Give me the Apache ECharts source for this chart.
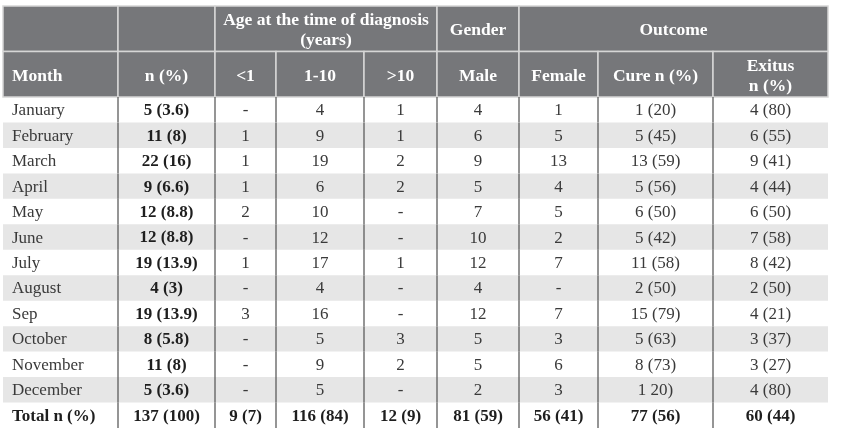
<!DOCTYPE html>
<html>
<head>
<meta charset="utf-8">
<script src="https://cdn.jsdelivr.net/npm/echarts@6/dist/echarts.min.js"></script>
<style>html,body{margin:0;padding:0;background:#fff;}#c{width:850px;height:444px;}</style>
</head>
<body>
<div id="c"></div>
<script>
// ---- data ----
const months = ['January','February','March','April','May','June','July','August','Sep','October','November','December'];
const nPct = ['5 (3.6)','11 (8)','22 (16)','9 (6.6)','12 (8.8)','12 (8.8)','19 (13.9)','4 (3)','19 (13.9)','8 (5.8)','11 (8)','5 (3.6)'];
const ageUnder1 = ['-','1','1','1','2','-','1','-','3','-','-','-'];
const age1to10 = ['4','9','19','6','10','12','17','4','16','5','9','5'];
const ageOver10 = ['1','1','2','2','-','-','1','-','-','3','2','-'];
const male = ['4','6','9','5','7','10','12','4','12','5','5','2'];
const female = ['1','5','13','4','5','2','7','-','7','3','6','3'];
const cure = ['1 (20)','5 (45)','13 (59)','5 (56)','6 (50)','5 (42)','11 (58)','2 (50)','15 (79)','5 (63)','8 (73)','1 20)'];
const exitus = ['4 (80)','6 (55)','9 (41)','4 (44)','6 (50)','7 (58)','8 (42)','2 (50)','4 (21)','3 (37)','3 (27)','4 (80)'];
const totals = ['Total n (%)','137 (100)','9 (7)','116 (84)','12 (9)','81 (59)','56 (41)','77 (56)','60 (44)'];

const headerGroups = [
  {from: 0, to: 1, text: ''},
  {from: 1, to: 2, text: ''},
  {from: 2, to: 5, text: 'Age at the time of diagnosis\n(years)'},
  {from: 5, to: 6, text: 'Gender'},
  {from: 6, to: 9, text: 'Outcome'}
];
const headerCols = ['Month','n (%)','<1','1-10','>10','Male','Female','Cure n (%)','Exitus\nn (%)'];

// ---- layout (column edges in axis units) ----
const colEdges = [0, 115, 212, 273, 361, 434, 516, 595, 710, 825];
const FONT = '"Liberation Serif", "DejaVu Serif", serif';

// build table structures
const columns = [months, nPct, ageUnder1, age1to10, ageOver10, male, female, cure, exitus];
const rowLabels = months.concat(['Total']);
const bodyData = [], bodyText = [];
for (let r = 0; r < rowLabels.length; r++) {
  for (let c = 0; c < columns.length; c++) {
    bodyData.push([c, r]);
    bodyText.push(r < months.length ? columns[c][r] : totals[c]);
  }
}
const headData = [], headInfo = [];
headerGroups.forEach(g => { headData.push([g.from, 0]); headInfo.push({from: g.from, to: g.to, text: g.text}); });
headerCols.forEach((t, i) => { headData.push([i, 1]); headInfo.push({from: i, to: i + 1, text: t}); });

function renderHead(params, api) {
  const info = headInfo[params.dataIndex];
  const r = api.value(1);
  const p0 = api.coord([colEdges[info.from], r]);
  const p1 = api.coord([colEdges[info.to], r]);
  const h = api.size([0, 1])[1];
  const top = p0[1] - h / 2;
  const isLeft = info.from === 0 && r === 1;
  return {
    type: 'group',
    children: [
      {type: 'rect', shape: {x: p0[0], y: top, width: p1[0] - p0[0], height: h},
       style: {fill: '#76777a', stroke: '#d6d6d6', lineWidth: 1.5}},
      {type: 'text', x: isLeft ? p0[0] + 9 : (p0[0] + p1[0]) / 2, y: top + h / 2 + 2,
       style: {text: info.text, fill: '#ffffff', font: 'bold 17.5px ' + FONT,
               align: isLeft ? 'left' : 'center', verticalAlign: 'middle', lineHeight: 20}}
    ]
  };
}

function renderBody(params, api) {
  const c = api.value(0), r = api.value(1);
  const p0 = api.coord([colEdges[c], r]);
  const p1 = api.coord([colEdges[c + 1], r]);
  const pEnd = api.coord([colEdges[colEdges.length - 1], r]);
  const h = api.size([0, 1])[1];
  const top = p0[1] - h / 2;
  const children = [];
  if (c === 0 && r % 2 === 1) {
    children.push({type: 'rect', shape: {x: p0[0], y: top, width: pEnd[0] - p0[0], height: h},
                   style: {fill: '#e6e6e6'}});
  }
  if (c > 0) {
    children.push({type: 'line', shape: {x1: p0[0], y1: top, x2: p0[0], y2: top + h},
                   style: {stroke: '#5c5c5c', lineWidth: 1.3}});
  }
  const isTotal = r === months.length;
  const bold = c === 1 || isTotal;
  children.push({type: 'text', x: c === 0 ? p0[0] + 9 : (p0[0] + p1[0]) / 2, y: p0[1] + 1,
    style: {text: bodyText[params.dataIndex], fill: bold ? '#1e1e1e' : '#3a3a3a',
            font: (bold ? 'bold ' : '') + '17px ' + FONT,
            align: c === 0 ? 'left' : 'center', verticalAlign: 'middle'}});
  return {type: 'group', children: children};
}

const chart = echarts.init(document.getElementById('c'), null, {renderer: 'canvas'});
chart.setOption({
  animation: false,
  backgroundColor: '#ffffff',
  grid: [
    {left: 3, width: 825, top: 6, height: 91},
    {left: 3, width: 825, top: 97, height: 331}
  ],
  xAxis: [
    {type: 'value', gridIndex: 0, min: 0, max: 825, show: false},
    {type: 'value', gridIndex: 1, min: 0, max: 825, show: false}
  ],
  yAxis: [
    {type: 'category', gridIndex: 0, data: ['group', 'column'], inverse: true, show: false},
    {type: 'category', gridIndex: 1, data: rowLabels, inverse: true, show: false}
  ],
  series: [
    {type: 'custom', xAxisIndex: 0, yAxisIndex: 0, data: headData, renderItem: renderHead,
     encode: {x: 0, y: 1}, clip: false, silent: true},
    {type: 'custom', xAxisIndex: 1, yAxisIndex: 1, data: bodyData, renderItem: renderBody,
     encode: {x: 0, y: 1}, clip: false, silent: true}
  ]
});
</script>
</body>
</html>
